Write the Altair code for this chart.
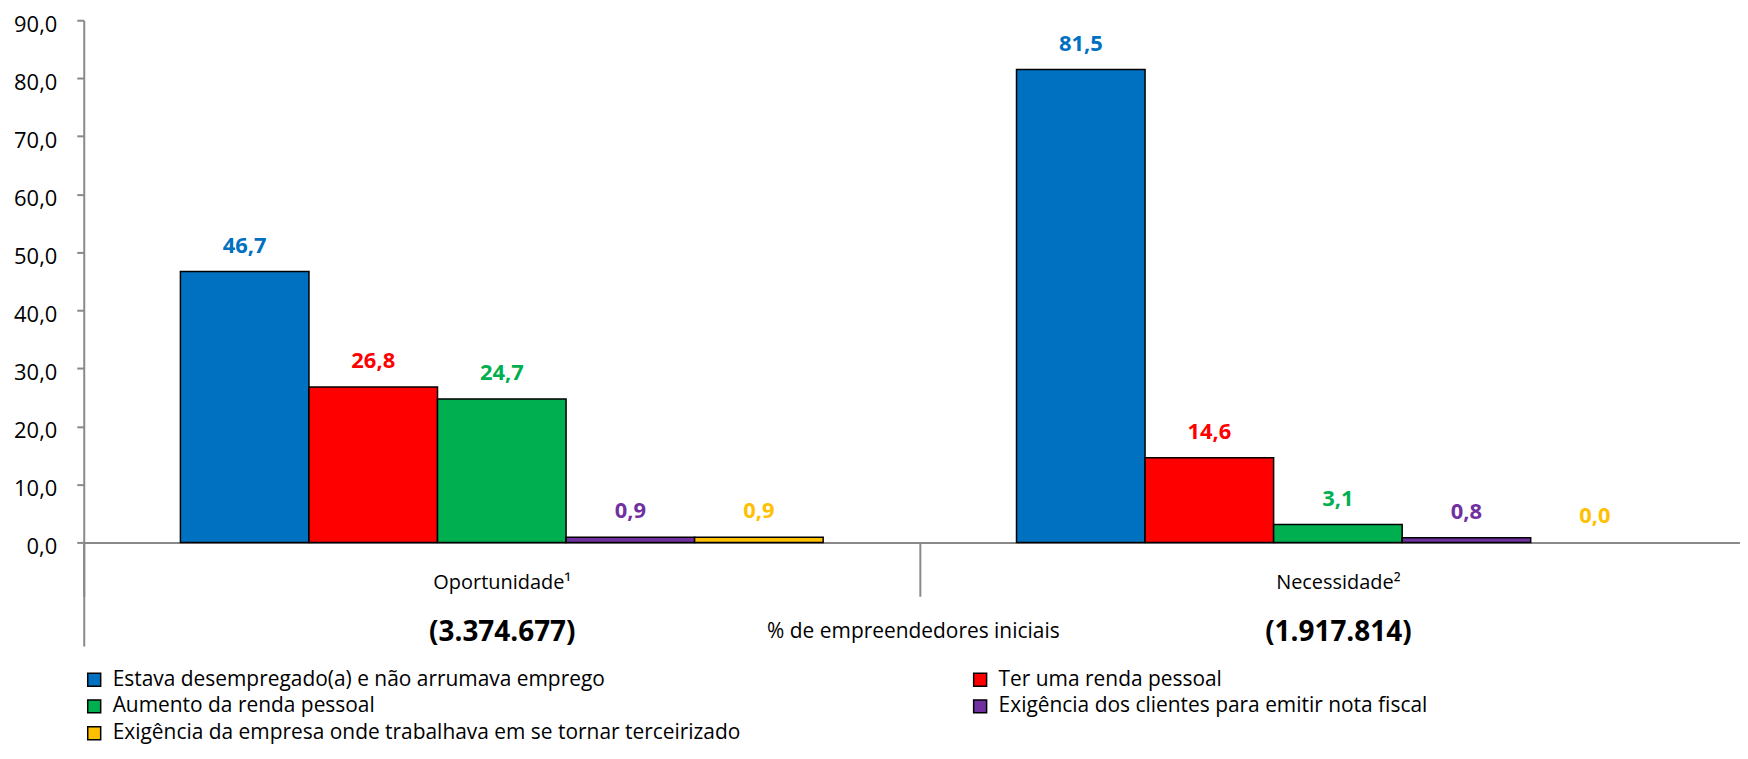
import altair as alt
import pandas as pd

categories = ["Oportunidade¹", "Necessidade²"]
totals = ["(3.374.677)", "(1.917.814)"]
series = [
    "Estava desempregado(a) e não arrumava emprego",
    "Ter uma renda pessoal",
    "Aumento da renda pessoal",
    "Exigência dos clientes para emitir nota fiscal",
    "Exigência da empresa onde trabalhava em se tornar terceirizado",
]
colors = ["#0070C0", "#FF0000", "#00B050", "#7030A0", "#FFC000"]
oportunidade = [46.7, 26.8, 24.7, 0.9, 0.9]
necessidade = [81.5, 14.6, 3.1, 0.8, 0.0]
y_ticks = [0, 10, 20, 30, 40, 50, 60, 70, 80, 90]
x_title = "% de empreendedores iniciais"

rows = []
for cat, vals in zip(categories, [oportunidade, necessidade]):
    for s, v in zip(series, vals):
        rows.append({"cat": cat, "serie": s, "valor": v})
df = pd.DataFrame(rows)

FONT = "Open Sans"
GRAY = "#898989"

total_expr = "''"
for c, t in reversed(list(zip(categories, totals))):
    total_expr = f"datum.value == '{c}' ? '{t}' : ({total_expr})"

x_scale = alt.Scale(domain=categories, range=[0, 1678], paddingInner=0, paddingOuter=0)
off_scale = alt.Scale(domain=series, paddingInner=0, paddingOuter=0.752)
color_scale = alt.Scale(domain=series, range=colors)

y_enc = alt.Y(
    "valor:Q",
    scale=alt.Scale(domain=[0, 90], nice=False),
    axis=alt.Axis(
        values=y_ticks,
        labelExpr="replace(format(datum.value, '.1f'), '.', ',')",
        labelFont=FONT, labelFontSize=22, labelColor="black",
        labelPadding=20, labelOffset=4,
        tickSize=7, tickColor=GRAY, tickWidth=2,
        domainColor=GRAY, domainWidth=2, grid=False, title=None,
    ),
)

axis_a = alt.Axis(
    orient="bottom",
    title=x_title, titleFont=FONT, titleFontSize=21, titleFontWeight="normal",
    titleColor="black", titleY=89, titleX=832, titleBaseline="middle",
    domainColor=GRAY, domainWidth=2,
    tickBand="extent", tickColor=GRAY, tickWidth=2, tickSize=54,
    labelFont=FONT, labelFontSize=20, labelColor="black",
    labelPadding=-23.7, labelAngle=0,
)

axis_b = alt.Axis(
    orient="bottom", title=None, domain=False,
    tickBand="extent", tickColor=GRAY, tickWidth=2, tickSize=104,
    tickOpacity={"condition": {"test": "datum.extra", "value": 1}, "value": 0},
    labelExpr=total_expr,
    labelFont=FONT, labelFontSize=28, labelFontWeight="bold", labelColor="black",
    labelPadding=-27.1, labelAngle=0,
)

base = alt.Chart(df).transform_calculate(
    rotulo="replace(format(datum.valor, '.1f'), '.', ',')"
)

bars = base.mark_bar(stroke="black").encode(
    x=alt.X("cat:N", scale=x_scale, sort=categories, axis=axis_a),
    xOffset=alt.XOffset("serie:N", scale=off_scale, sort=series),
    y=y_enc,
    color=alt.Color(
        "serie:N", scale=color_scale, sort=series,
        legend=alt.Legend(
            title=None, orient="none", legendX=0, legendY=651,
            direction="horizontal",
            columns=2, columnPadding=229, rowPadding=5, padding=0,
            symbolType="square", symbolSize=169,
            symbolStrokeColor="black", symbolStrokeWidth=1.5,
            symbolOpacity=1,
            labelFont=FONT, labelFontSize=21, labelColor="black",
            labelLimit=1000, labelOffset=8,
        ),
    ),
    strokeWidth=alt.condition("datum.valor == 0", alt.value(0), alt.value(1.5)),
)

labels = base.mark_text(
    font=FONT, fontSize=22, fontWeight="bold", baseline="middle", dy=-26
).encode(
    x=alt.X("cat:N", scale=x_scale, sort=categories, axis=axis_b),
    xOffset=alt.XOffset("serie:N", scale=off_scale, sort=series),
    y=y_enc,
    color=alt.Color("serie:N", scale=color_scale, sort=series, legend=None),
    text="rotulo:N",
)

chart = (
    alt.layer(bars, labels)
    .resolve_axis(x="independent")
    .properties(
        width=1662, height=524,
        autosize=alt.AutoSizeParams(type="none"),
        padding={"left": 76, "top": 11, "right": 0, "bottom": 206},
    )
    .configure_view(stroke=None)
)

chart.save("out.html", embed_options={"renderer": "svg", "actions": False})
